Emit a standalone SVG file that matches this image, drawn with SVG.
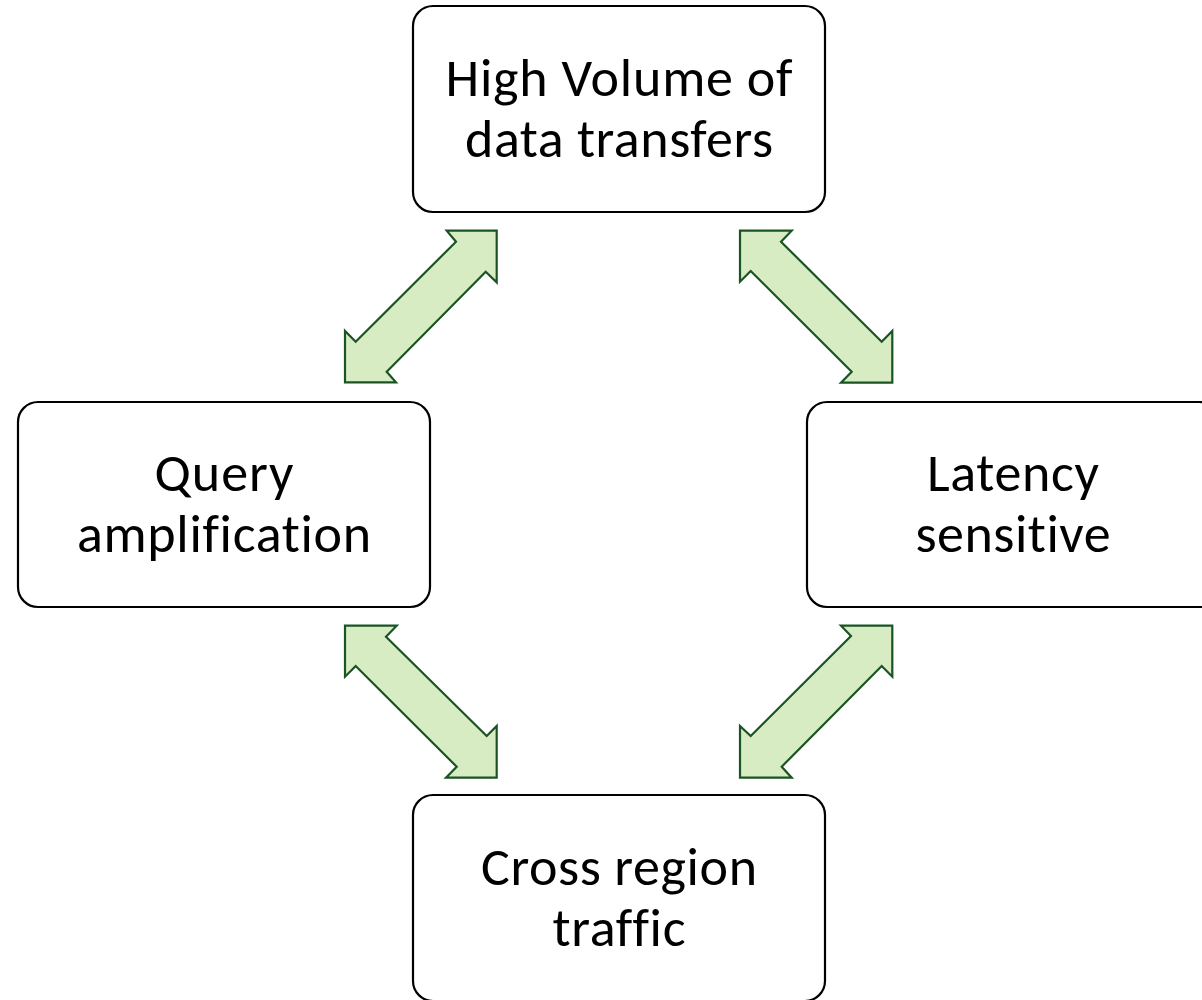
<svg xmlns="http://www.w3.org/2000/svg" width="1202" height="1000" viewBox="0 0 1202 1000">
  <style>
    .box { fill: #ffffff; stroke: #000000; stroke-width: 2.2; }
    .label { font-family: Carlito, Lato, "Open Sans", sans-serif; font-size: 54px; fill: #000000; text-anchor: middle; font-variant-ligatures: none; }
    .link { fill: #d7ecc3; stroke: #1b5424; stroke-width: 2.2; stroke-linejoin: miter; }
  </style>
  <rect width="1202" height="1000" fill="#ffffff"/>

  <!-- double-headed block arrows between the four boxes -->
  <g id="connectors">
    <polygon class="link" points="446.7,230.7 496.7,230.7 496.7,282.3 485.7,271.7 386.7,371.7 396,382.3 345,382.3 345,331 355.7,341.7 456,241.7"/>
    <polygon class="link" points="740,230.7 791.7,230.7 781,241.7 881.7,341.7 892.3,331 892.3,382.7 841,382.7 851.7,371.7 750.7,271 740,281.7"/>
    <polygon class="link" points="345,625.7 396.7,625.7 386,636.7 486.7,736 496.7,726 496.7,777.7 446,777.7 456.7,766.7 355.7,666 345,676.7"/>
    <polygon class="link" points="841,625.7 892.3,625.7 892.3,676.7 881.7,666 781.7,766.7 791.7,777.7 740,777.7 740,726 750.7,736 851,636"/>
  </g>

  <g id="node-volume">
    <rect class="box" x="413" y="6" width="412" height="206" rx="20" ry="20"/>
    <text class="label" x="619" y="96" textLength="347">High Volume of</text>
    <text class="label" x="619" y="157" textLength="308">data transfers</text>
  </g>

  <g id="node-query">
    <rect class="box" x="18" y="402" width="412" height="205" rx="20" ry="20"/>
    <text class="label" x="224" y="491" textLength="139">Query</text>
    <text class="label" x="224" y="552" textLength="294">amplification</text>
  </g>

  <g id="node-latency">
    <rect class="box" x="807" y="402" width="412" height="205" rx="20" ry="20"/>
    <text class="label" x="1013" y="491" textLength="172">Latency</text>
    <text class="label" x="1013" y="552" textLength="195">sensitive</text>
  </g>

  <g id="node-cross-region">
    <rect class="box" x="413" y="795" width="412" height="206" rx="20" ry="20"/>
    <text class="label" x="619" y="885" textLength="276">Cross region</text>
    <text class="label" x="619" y="946" textLength="133">traffic</text>
  </g>
</svg>
